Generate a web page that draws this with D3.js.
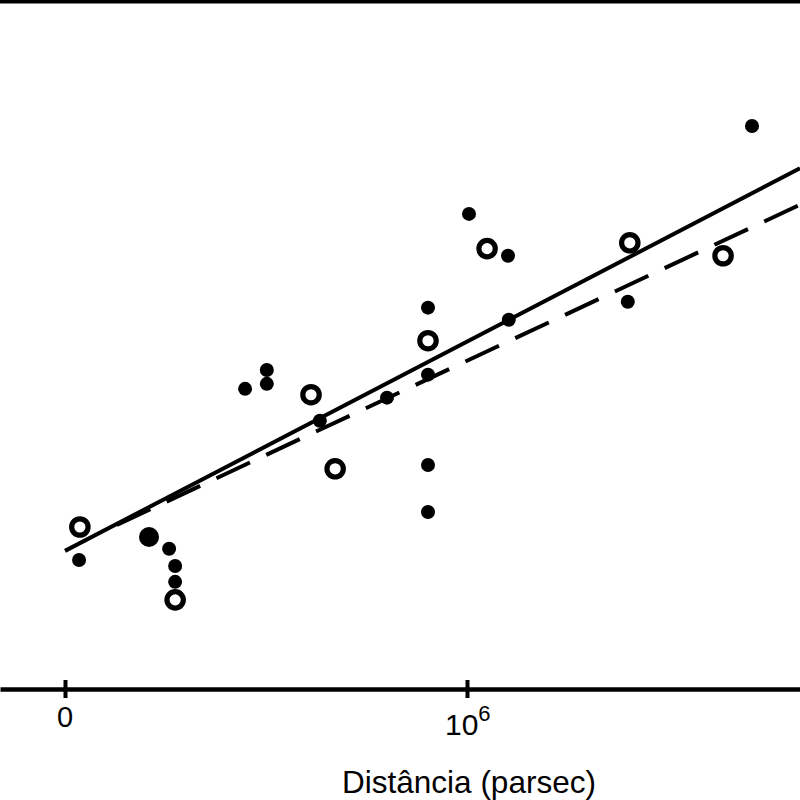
<!DOCTYPE html>
<html>
<head>
<meta charset="utf-8">
<script src="https://cdn.jsdelivr.net/npm/d3@7/dist/d3.min.js"></script>
<style>
  html, body { margin: 0; padding: 0; background: #fff; }
  svg { display: block; }
  text { font-family: "Liberation Sans", Arial, Helvetica, sans-serif; fill: #000; }
</style>
</head>
<body>
<svg id="chart" width="800" height="800"></svg>
<script>
// Distances in parsec, velocities in km/s
const filledDist = [35000, 209000, 259000, 274000, 274000, 448000, 502000, 502000, 634000, 801000,
                    903000, 903000, 903000, 903000, 1005000, 1102000, 1104000, 1400000, 1709000];
const filledVel  = [-22, 33, 5, -36, -74, 387, 432, 399, 311, 366,
                    581, 421, 205, 93, 805, 705, 552, 595, 1015];
const filledLargeIndex = 1;

const openDist = [37000, 274000, 612000, 672000, 903000, 1050000, 1405000, 1637000];
const openVel  = [57, -117, 373, 196, 502, 722, 736, 705];

const solidLine  = [[0, 0], [1828400, 914]];
const dashedLine = [[129000, 62], [1828400, 827]];

const tickValues = [0, 1000000];
const xLabel = "Distância (parsec)";

const svg = d3.select("#chart");
const W = 800, H = 800;
const axisY = 689;

const x = d3.scaleLinear().domain([-161700, 1828400]).range([0, 800]);
const y = d3.scaleLinear().domain([-330, 1316]).range([axisY, 0]);

// top border
svg.append("line")
  .attr("x1", 0).attr("x2", W).attr("y1", 1.75).attr("y2", 1.75)
  .attr("stroke", "#000").attr("stroke-width", 3.5);

// x axis
const xAxis = d3.axisBottom(x).tickValues(tickValues).tickSizeOuter(0).tickFormat("");
const gx = svg.append("g").attr("transform", `translate(0,${axisY})`).call(xAxis);
gx.select(".domain").attr("stroke", "#000").attr("stroke-width", 4.5);
gx.selectAll(".tick line").attr("y1", -9).attr("y2", 9).attr("stroke", "#000").attr("stroke-width", 4);

// tick labels
svg.append("text")
  .attr("x", x(tickValues[0])).attr("y", 727)
  .attr("text-anchor", "middle").attr("font-size", 29)
  .text("0");
const t2 = svg.append("text")
  .attr("x", x(tickValues[1]) - 22).attr("y", 735)
  .attr("font-size", 30);
t2.append("tspan").text("10");
t2.append("tspan").attr("font-size", 22).attr("dy", -14).text("6");

// axis title
svg.append("text")
  .attr("x", 469).attr("y", 793)
  .attr("text-anchor", "middle").attr("font-size", 31.5)
  .text(xLabel);

// lines
const lineGen = d3.line().x(d => x(d[0])).y(d => y(d[1]));
svg.append("path").attr("d", lineGen(solidLine))
  .attr("fill", "none").attr("stroke", "#000").attr("stroke-width", 4);
svg.append("path").attr("d", lineGen(dashedLine))
  .attr("fill", "none").attr("stroke", "#000").attr("stroke-width", 4)
  .attr("stroke-dasharray", "37,18");

// filled points
svg.append("g").selectAll("circle")
  .data(filledDist.map((d, i) => ({d, v: filledVel[i], i})))
  .join("circle")
  .attr("cx", p => x(p.d)).attr("cy", p => y(p.v))
  .attr("r", p => p.i === filledLargeIndex ? 10 : 7)
  .attr("fill", "#000");

// open points
svg.append("g").selectAll("circle")
  .data(openDist.map((d, i) => ({d, v: openVel[i]})))
  .join("circle")
  .attr("cx", p => x(p.d)).attr("cy", p => y(p.v))
  .attr("r", 8.2)
  .attr("fill", "#fff").attr("stroke", "#000").attr("stroke-width", 5.2);
</script>
</body>
</html>
